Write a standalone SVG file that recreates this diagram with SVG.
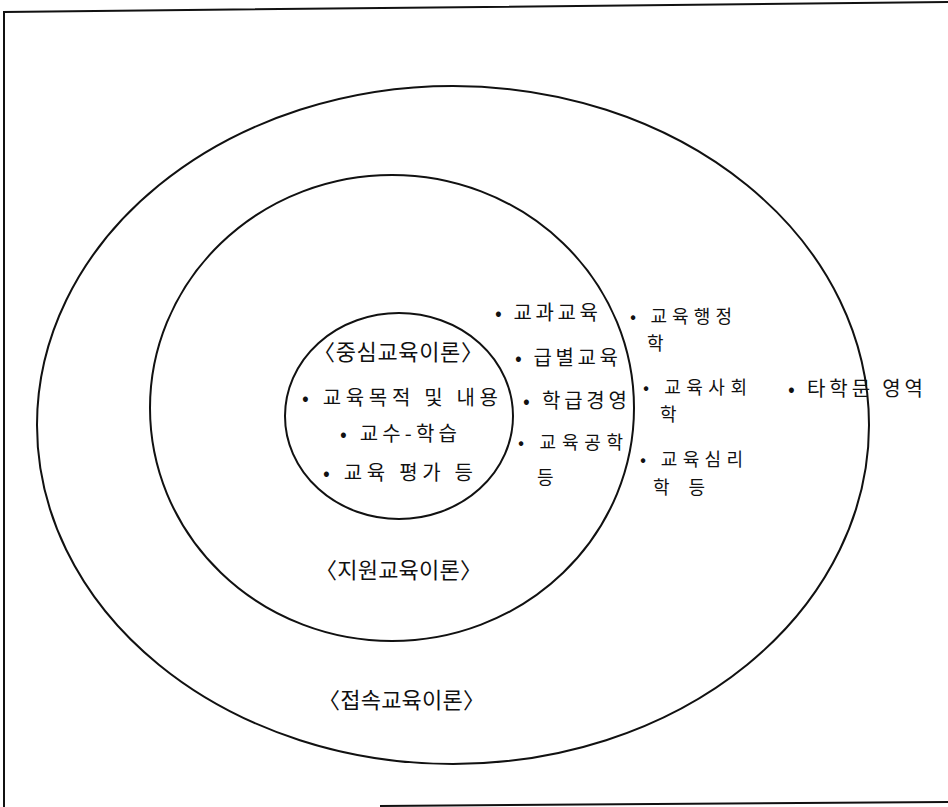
<svg xmlns="http://www.w3.org/2000/svg" width="948" height="807" viewBox="0 0 948 807">
<style>
.ring{fill:none;stroke:#111;stroke-width:2}
.frame{fill:none;stroke:#111;stroke-width:2}
.h{font-family:"Noto Sans CJK KR","Noto Sans",sans-serif;font-size:22px;fill:#111}
.t{font-family:"Noto Sans CJK KR","Noto Sans",sans-serif;font-size:20px;fill:#111}
.w{font-family:"Noto Sans CJK KR","Noto Sans",sans-serif;font-size:18px;fill:#111}
</style>
<rect width="948" height="807" fill="#fff"/>
<g id="frame">
<polyline class="frame" points="948,2 4,12 4,807"/>
<line class="frame" x1="380" y1="806" x2="948" y2="802"/>
</g>
<g id="outer">
<ellipse class="ring" cx="453" cy="425" rx="416" ry="339"/>
<text class="h" x="318" y="708" textLength="167" lengthAdjust="spacing">〈접속교육이론〉</text>
<text class="t" x="788" y="396" textLength="135" lengthAdjust="spacing">• 타학문 영역</text>
</g>
<g id="middle">
<ellipse class="ring" cx="392" cy="408" rx="242" ry="233"/>
<text class="h" x="315" y="578" textLength="167" lengthAdjust="spacing">〈지원교육이론〉</text>
<text class="w" x="630" y="323" textLength="102" lengthAdjust="spacing">• 교육행정</text>
<text class="w" x="647" y="350" textLength="21" lengthAdjust="spacing">학</text>
<text class="w" x="643" y="394" textLength="104" lengthAdjust="spacing">• 교육사회</text>
<text class="w" x="660" y="421" textLength="22" lengthAdjust="spacing">학</text>
<text class="w" x="640" y="466" textLength="103" lengthAdjust="spacing">• 교육심리</text>
<text class="w" x="653" y="494" textLength="52" lengthAdjust="spacing">학 등</text>
</g>
<g id="inner">
<ellipse class="ring" cx="399" cy="416" rx="114" ry="103"/>
<text class="h" x="313" y="360" textLength="170" lengthAdjust="spacing">〈중심교육이론〉</text>
<text class="t" x="302" y="405" textLength="196" lengthAdjust="spacing">• 교육목적 및 내용</text>
<text class="t" x="340" y="441" textLength="117" lengthAdjust="spacing">• 교수-학습</text>
<text class="t" x="323" y="480" textLength="150" lengthAdjust="spacing">• 교육 평가 등</text>
<text class="t" x="495" y="320" textLength="103" lengthAdjust="spacing">• 교과교육</text>
<text class="t" x="515" y="365" textLength="103" lengthAdjust="spacing">• 급별교육</text>
<text class="t" x="523" y="408" textLength="104" lengthAdjust="spacing">• 학급경영</text>
<text class="w" x="518" y="449" textLength="105" lengthAdjust="spacing">• 교육공학</text>
<text class="w" x="537" y="484" textLength="20" lengthAdjust="spacing">등</text>
</g>
<g id="connectors"/>
</svg>
